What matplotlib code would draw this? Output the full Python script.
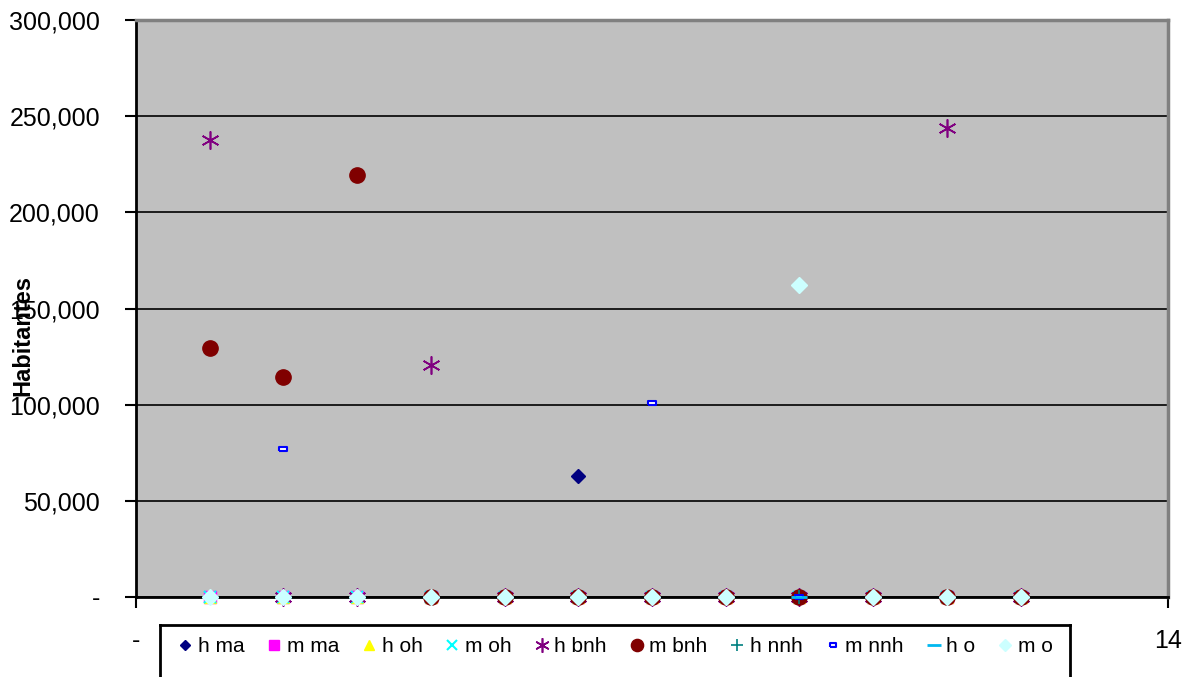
import numpy as np
import matplotlib
matplotlib.use("Agg")
import matplotlib.pyplot as plt
from matplotlib.lines import Line2D
from matplotlib.ticker import FuncFormatter, FixedLocator

plt.rcParams['font.family'] = ['Liberation Sans', 'DejaVu Sans']

# datos (x = 1..12)
x = np.arange(1, 13)
h_ma = [0, 0, 0, 0, 0, 62900, 0, 0, 0, 0, 0, 0]
m_ma = [0] * 12
h_oh = [0] * 12
m_oh = [0] * 12
h_bnh = [237500, 0, 0, 120500, 0, 0, 0, 0, 0, 0, 243800, 0]
m_bnh = [129400, 114300, 219300, 0, 0, 0, 0, 0, 0, 0, 0, 0]
h_nnh = [0] * 12
m_nnh = [0, 77000, 0, 0, 0, 0, 100800, 0, 0, 0, 0, 0]
h_o = [0] * 12
m_o = [0, 0, 0, 0, 0, 0, 0, 0, 162000, 0, 0, 0]

series = [
  ('h ma', h_ma, dict(marker='D', color='#000080', ms=7)),
  ('m ma', m_ma, dict(marker='s', color='#FF00FF', ms=9)),
  ('h oh', h_oh, dict(marker='^', color='#FFFF00', ms=9)),
  ('m oh', m_oh, dict(marker='x', color='#00FFFF', ms=9, mew=1.5)),
  ('h bnh', h_bnh, dict(marker=(6, 2, 0), color='#800080', ms=13, mew=1.2)),
  ('m bnh', m_bnh, dict(marker='o', color='#800000', ms=11)),
  ('h nnh', h_nnh, dict(marker='+', color='#008080', ms=10, mew=1.2)),
  ('m nnh', m_nnh, dict(marker=[(-1, -0.45), (1, -0.45), (1, 0.45), (-1, 0.45), (-1, -0.45)],
                        color='#0000FF', mfc='white', ms=6, mew=1.5)),
  ('h o', h_o, dict(marker='_', color='#00B8F0', ms=12, mew=2)),
  ('m o', m_o, dict(marker='D', color='#CCFFFF', ms=8)),
]

fig = plt.figure(figsize=(11.93, 6.77), dpi=100)
ax = fig.add_axes([136/1193, 1 - 597/677, (1168-136)/1193, (597-20)/677])
ax.set_facecolor('#C0C0C0')

for name, vals, st in series:
  ax.plot(x, vals, linestyle='none', label=name, clip_on=False, zorder=3, **st)

ax.set_xlim(0, 14)
ax.set_ylim(0, 300000)
ax.set_yticks(np.arange(0, 300001, 50000))
ax.yaxis.set_major_formatter(FuncFormatter(lambda v, p: '-' if v == 0 else '{:,.0f}'.format(v)))
ax.set_xticks([0, 14])
ax.set_xticklabels(['-', '14'])
ax.xaxis.set_minor_locator(FixedLocator([2, 4, 6, 8, 10, 12]))
ax.tick_params(axis='y', labelsize=18, length=8, width=1.5, pad=18)
ax.tick_params(axis='x', which='major', labelsize=18, length=8, width=1.5, pad=15)
ax.tick_params(axis='x', which='minor', length=4, width=1.5)
ax.grid(axis='y', color='black', linewidth=1.2, zorder=1)
ax.set_axisbelow(True)

for s in ['left', 'bottom']:
  ax.spines[s].set_color('black')
  ax.spines[s].set_linewidth(2)
for s in ['top', 'right']:
  ax.spines[s].set_color('#808080')
  ax.spines[s].set_linewidth(2.5)

fig.text(23/1193, 1 - 335/677, 'Habitantes', rotation=90, fontsize=17,
         fontweight='bold', ha='center', va='center')

leg = fig.legend(loc='upper left', bbox_to_anchor=(160/1193, 1 - 625/677), ncol=10,
                 frameon=False, fontsize=15,
                 borderaxespad=0, handlelength=1.2, handletextpad=0.0,
                 columnspacing=0.84, borderpad=0.6, markerscale=0.8)

# el cuadro de la leyenda sigue por debajo del borde de la figura
fig.canvas.draw()
bb = leg.get_window_extent().transformed(fig.transFigure.inverted())
x0, x1, y1 = bb.x0, bb.x1 + 0.004, bb.y1
for xs, ys in [([x0, x0], [-0.01, y1]), ([x0, x1], [y1, y1]), ([x1, x1], [y1, -0.01])]:
  fig.add_artist(Line2D(xs, ys, transform=fig.transFigure, color='black', lw=2))

fig.savefig('out.png', dpi=100)
